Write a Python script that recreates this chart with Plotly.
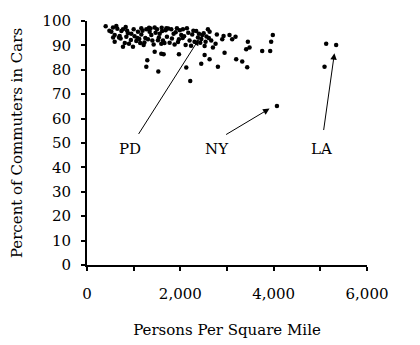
import plotly.graph_objects as go

# Persons per square mile (x) and percent of commuters in cars (y)
density = [400, 557, 628, 522, 593, 700, 593, 771, 686, 736, 829, 771, 843, 900, 985,
           1000, 950, 1057, 1092, 1164, 1164, 1214, 1271, 1307, 1342, 1378, 1428, 1450,
           1500, 1557, 1592, 1628, 1685, 1713, 1770, 1806, 1856, 1877, 1927, 1970, 2020,
           2056, 2113, 2141, 2198, 2255, 2305, 2377, 2398, 2427, 2470, 2520, 2541, 2591,
           2627, 2662, 2698, 2755, 2783, 2898, 2926, 3054, 3111, 3183, 3411, 3447, 3483,
           3754, 3925, 3946, 3982,
           650, 720, 880, 940, 1020, 1120, 1190, 1250, 1330, 1400, 1470, 1540, 1610,
           1660, 1740, 1820, 1900, 1990, 2080, 2170, 2230, 2340, 2450, 2560, 2610,
           480, 560, 810, 1080, 1230, 1360, 1520, 1700, 1950, 2280, 2500, 860, 1140,
           1600, 2050,
           1292, 1271, 1528, 1450, 1642, 1592, 1970, 2127, 2212, 2448, 2520, 2627, 2805,
           2948, 3197, 3326, 3433,
           4070, 5125, 5339, 5090]
pct_cars = [97.8, 97.3, 98.0, 95.6, 94.3, 93.9, 91.5, 89.4, 93.2, 95.9, 97.5, 96.6, 93.5,
            90.7, 89.4, 96.6, 94.8, 91.8, 95.6, 94.5, 97.0, 90.2, 96.6, 92.5, 95.6, 94.3,
            90.4, 97.3, 96.6, 94.8, 90.7, 92.0, 96.2, 93.5, 91.1, 96.6, 94.8, 90.4, 97.0,
            92.5, 94.3, 96.6, 90.2, 97.0, 92.0, 94.5, 91.5, 93.2, 94.8, 91.1, 94.3, 89.8,
            91.5, 96.6, 95.6, 92.0, 89.1, 90.7, 94.5, 92.5, 93.9, 94.3, 92.5, 93.5, 88.4,
            91.5, 89.1, 87.7, 87.7, 91.5, 94.3,
            96.8, 92.8, 95.0, 92.2, 93.8, 92.6, 96.0, 93.0, 97.2, 92.0, 95.2, 93.2, 95.9,
            91.0, 96.9, 92.8, 95.4, 96.2, 93.8, 95.2, 89.9, 95.9, 92.6, 93.6, 93.0,
            96.0, 93.2, 91.0, 93.0, 91.2, 96.9, 92.1, 97.0, 91.4, 96.0, 95.0, 96.0, 91.0,
            97.2, 93.0,
            83.9, 81.2, 79.3, 87.4, 86.4, 86.6, 86.4, 80.9, 75.4, 82.5, 86.1, 84.3, 81.2,
            87.0, 84.3, 83.4, 81.0,
            65.2, 90.7, 90.2, 81.2]

# Labelled cities: label, text position, arrow tail, arrow head
labels = ["PD", "NY", "LA"]
label_x = [914, 2777, 5024]
label_y = [47.7, 47.7, 47.7]
tail_x = [1086, 2949, 5067]
tail_y = [53.1, 53.1, 54.7]
head_x = [2400, 3912, 5302]
head_y = [92.6, 64.1, 86.8]

x_ticks = [0, 2000, 4000, 6000]
x_tick_text = ["0", "2,000", "4,000", "6,000"]
y_ticks = list(range(0, 101, 10))

font_family = "DejaVu Serif"

fig = go.Figure()
fig.add_trace(go.Scatter(
    x=density, y=pct_cars, mode="markers",
    marker=dict(color="black", size=4.5, symbol="circle"),
    showlegend=False, hoverinfo="skip",
))

annotations = []
for lab, lx, ly in zip(labels, label_x, label_y):
    annotations.append(dict(x=lx, y=ly, xref="x", yref="y", text=lab, showarrow=False,
                            font=dict(family=font_family, size=15, color="black")))
for tx, ty, hx, hy in zip(tail_x, tail_y, head_x, head_y):
    annotations.append(dict(x=hx, y=hy, ax=tx, ay=ty, xref="x", yref="y",
                            axref="x", ayref="y", text="", showarrow=True,
                            arrowhead=2, arrowsize=1.3, arrowwidth=1,
                            arrowcolor="black", standoff=0, startstandoff=0))

fig.update_layout(
    width=420, height=345,
    margin=dict(l=87, r=53, t=21, b=80),
    paper_bgcolor="white", plot_bgcolor="white",
    font=dict(family=font_family, size=15, color="black"),
    annotations=annotations,
    xaxis=dict(range=[0, 6000], tickvals=x_ticks, ticktext=x_tick_text,
               automargin=False,
               showgrid=False, zeroline=False, showline=True, linecolor="black",
               linewidth=2, ticks="outside", ticklen=4, tickwidth=2, tickcolor="black",
               ticklabelstandoff=10, tickfont=dict(size=15),
               minor=dict(tickvals=[1000, 3000, 5000], ticks="outside", ticklen=4,
                          tickwidth=2, tickcolor="black"),
               title=dict(text="Persons Per Square Mile", standoff=22,
                          font=dict(family=font_family, size=15))),
    yaxis=dict(range=[0, 100], tickvals=y_ticks, showgrid=False, zeroline=False,
               automargin=False,
               showline=True, linecolor="black", linewidth=2, ticks="outside",
               ticklen=4, tickwidth=2, tickcolor="black",
               ticklabelstandoff=7, tickfont=dict(size=15),
               title=dict(text="Percent of Commuters in Cars", standoff=16,
                          font=dict(family=font_family, size=15))),
)

fig.write_html("out.html")
